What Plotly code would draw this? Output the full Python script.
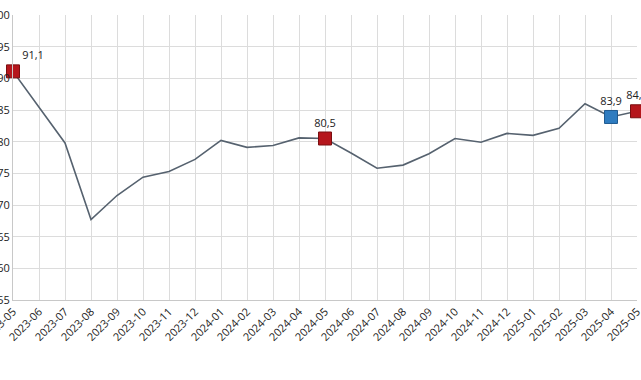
import plotly.graph_objects as go

months = ["2023-05", "2023-06", "2023-07", "2023-08", "2023-09", "2023-10", "2023-11",
          "2023-12", "2024-01", "2024-02", "2024-03", "2024-04", "2024-05", "2024-06",
          "2024-07", "2024-08", "2024-09", "2024-10", "2024-11", "2024-12", "2025-01",
          "2025-02", "2025-03", "2025-04", "2025-05"]
values = [91.1, 85.5, 79.8, 67.7, 71.5, 74.4, 75.3, 77.2, 80.2, 79.1, 79.4, 80.6, 80.5,
          78.2, 75.8, 76.3, 78.1, 80.5, 79.9, 81.3, 81.0, 82.1, 86.0, 83.9, 84.8]

red_months = ["2023-05", "2024-05", "2025-05"]
blue_months = ["2025-04"]
y_ticks = [55, 60, 65, 70, 75, 80, 85, 90, 95, 100]

val = dict(zip(months, values))
def lab(v):
    return f"{v:.1f}".replace(".", ",")

fig = go.Figure()
fig.add_trace(go.Scatter(x=months, y=values, mode="lines",
                         line=dict(color="#56626f", width=1.6), hoverinfo="skip",
                         cliponaxis=False))
fig.add_trace(go.Scatter(x=red_months, y=[val[m] for m in red_months], mode="markers+text",
                         marker=dict(symbol="square", size=13, color="#b5161c",
                                     line=dict(color="#7a0e10", width=1)),
                         text=[lab(val[m]) for m in red_months],
                         textposition=["top right", "top center", "top center"],
                         textfont=dict(family="Open Sans", size=11, color="#222222"),
                         cliponaxis=False))
fig.add_trace(go.Scatter(x=blue_months, y=[val[m] for m in blue_months], mode="markers+text",
                         marker=dict(symbol="square", size=13, color="#2f7cc0",
                                     line=dict(color="#1f5a90", width=1)),
                         text=[lab(val[m]) for m in blue_months], textposition="top center",
                         textfont=dict(family="Open Sans", size=11, color="#222222"),
                         cliponaxis=False))

fig.update_layout(
    width=641, height=380,
    margin=dict(l=13, r=4, t=15, b=80),
    paper_bgcolor="white", plot_bgcolor="white",
    showlegend=False,
    separators=",.",
    font=dict(family="Open Sans", size=11, color="#222222"),
)
fig.update_xaxes(type="category", range=[0, 24], tickangle=-45, automargin=False,
                 showgrid=True, gridcolor="#dcdcdc", gridwidth=1,
                 showline=True, linecolor="#c8c8c8", ticks="",
                 tickfont=dict(family="Open Sans", size=11, color="#222222"))
fig.update_yaxes(range=[55, 100], tickvals=y_ticks, automargin=False,
                 showgrid=True, gridcolor="#dcdcdc", gridwidth=1,
                 showline=True, linecolor="#c8c8c8", ticks="", zeroline=False,
                 tickfont=dict(family="Open Sans", size=11, color="#222222"))

fig.write_html("out.html", config={"displayModeBar": False},
               post_script="document.body.style.margin='0px';document.body.style.overflow='hidden';")
